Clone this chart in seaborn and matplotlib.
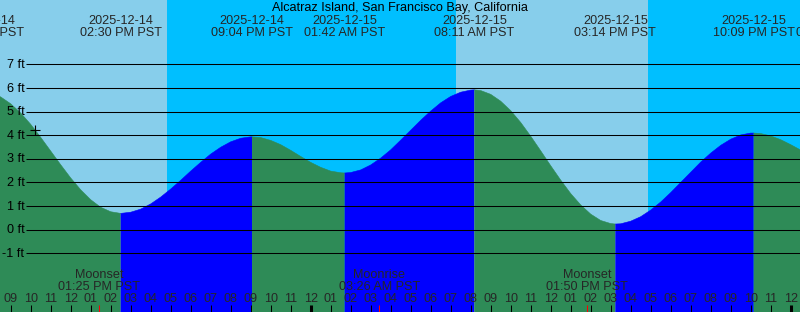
import numpy as np
import pandas as pd
import matplotlib
matplotlib.use("Agg")
import matplotlib.pyplot as plt
import seaborn as sns
from matplotlib.transforms import blended_transform_factory, ScaledTranslation

# ---------------- data (hours counted from 2025-12-14 00:00 PST) ----------------
TITLE = "Alcatraz Island, San Francisco Bay, California"

# tide height read every half hour, 08:00 Dec 14 .. 01:00 Dec 16
tide_hours = np.arange(8.0, 49.25, 0.5)
tide_ft = [5.78, 5.62, 5.33, 4.94, 4.46, 3.91, 3.33, 2.75, 2.19, 1.69,
           1.27, 0.95, 0.76, 0.69, 0.74, 0.87, 1.09, 1.38, 1.72, 2.09,
           2.48, 2.85, 3.20, 3.49, 3.72, 3.87, 3.93, 3.90, 3.78, 3.60,
           3.36, 3.10, 2.85, 2.64, 2.48, 2.41, 2.42, 2.53, 2.74, 3.03,
           3.38, 3.79, 4.21, 4.63, 5.02, 5.37, 5.64, 5.82, 5.91, 5.89,
           5.73, 5.44, 5.04, 4.54, 3.96, 3.34, 2.71, 2.10, 1.53, 1.05,
           0.66, 0.39, 0.26, 0.25, 0.36, 0.55, 0.83, 1.17, 1.57, 2.00,
           2.43, 2.86, 3.24, 3.57, 3.83, 4.01, 4.09, 4.07, 3.97, 3.81,
           3.60, 3.37, 3.17]

extreme_hours = [7.63, 14.5, 21.067, 25.7, 32.183, 39.233, 46.15, 50.3]
extreme_ft = [5.82, 0.69, 3.93, 2.40, 5.92, 0.24, 4.09, 2.90]
extreme_dates = ["2025-12-14", "2025-12-14", "2025-12-14", "2025-12-15",
                 "2025-12-15", "2025-12-15", "2025-12-15", "2025-12-16"]
extreme_clock = ["07:38 AM PST", "02:30 PM PST", "09:04 PM PST", "01:42 AM PST",
                 "08:11 AM PST", "03:14 PM PST", "10:09 PM PST", "02:18 AM PST"]

moon_hours = [13.417, 27.433, 37.833]
moon_names = ["Moonset", "Moonrise", "Moonset"]
moon_clock = ["01:25 PM PST", "03:26 AM PST", "01:50 PM PST"]

sky_edges = [7.0, 16.8, 31.265, 40.865, 50.0]
sky_is_day = [True, False, True, False]

now_hour = 10.2
now_ft = 4.24

ft_levels = [-1, 0, 1, 2, 3, 4, 5, 6, 7]
hour_ticks = list(range(9, 49))
hour_labels = ["%02d" % (12 if h % 12 == 0 else h % 12) for h in hour_ticks]

# ---------------- style ----------------
W, H = 800, 312
DPI = 100
FS = 9.1
DAY, NIGHT = "#87CEEB", "#00BFFF"
FALL, RISE = "#2E8B57", "#0000FF"

sns.set_style("white")
plt.rcParams["font.family"] = ["Liberation Sans", "DejaVu Sans"]

fig = plt.figure(figsize=(W / DPI, H / DPI), dpi=DPI)
ax = fig.add_axes([0, 0, 1, 1])
ax.set_axis_off()
X0 = 9 - 10.7 / 20.0
XLIM = (X0, X0 + W / 20.0)
YLIM = (-(H - 229.7) / 23.625, 229.7 / 23.625)


def fy(py):
    return 1 - py / H


bt = blended_transform_factory(ax.transData, ax.transAxes)

# sky (day / night)
for i, day in enumerate(sky_is_day):
    ax.axvspan(sky_edges[i], sky_edges[i + 1], color=DAY if day else NIGHT, lw=0, zorder=0)

# tide curve
curve = pd.concat([
    pd.DataFrame({"hour": tide_hours, "ft": tide_ft}),
    pd.DataFrame({"hour": extreme_hours, "ft": extreme_ft}),
]).sort_values("hour").drop_duplicates("hour").reset_index(drop=True)

bottom = -10
for i in range(len(extreme_hours) - 1):
    a, b = extreme_hours[i], extreme_hours[i + 1]
    seg = curve[(curve.hour >= a) & (curve.hour <= b)]
    c = RISE if extreme_ft[i + 1] > extreme_ft[i] else FALL
    ax.fill_between(seg.hour, bottom, seg.ft, color=c, lw=0, zorder=1)
    sns.lineplot(data=seg, x="hour", y="ft", color=c, lw=0.4, ax=ax, zorder=1.1,
                 sort=True, estimator=None)

ax.set_xlim(*XLIM)
ax.set_ylim(*YLIM)
ax.set_axis_off()

# horizontal ft lines and labels
ax.hlines(ft_levels, 26 / W, 1, transform=blended_transform_factory(ax.transAxes, ax.transData),
          color="black", lw=0.75, zorder=2)
lab_tr = blended_transform_factory(ax.transAxes, ax.transData) + \
    ScaledTranslation(0, -3.6 / DPI, fig.dpi_scale_trans)
for lv in ft_levels:
    ax.text(24.5 / W, lv, "%d ft" % lv, transform=lab_tr, ha="right", va="baseline",
            fontsize=FS, color="black", zorder=3)

# "now" marker
ax.plot([now_hour], [now_ft], marker="+", ms=7.5, mew=0.8, color="black", zorder=3)

# title
ax.text(0.5, fy(11.5), TITLE, transform=ax.transAxes, ha="center", va="baseline",
        fontsize=FS, color="black", zorder=3)

# tide event labels
for hr, d, clk in zip(extreme_hours, extreme_dates, extreme_clock):
    ax.text(hr, fy(24), d, transform=bt, ha="center", va="baseline", fontsize=FS, zorder=3)
    ax.text(hr, fy(36), clk, transform=bt, ha="center", va="baseline", fontsize=FS, zorder=3)

# moon labels
for hr, nm, clk in zip(moon_hours, moon_names, moon_clock):
    ax.text(hr, fy(278), nm, transform=bt, ha="center", va="baseline", fontsize=FS, zorder=3)
    ax.text(hr, fy(289.5), clk, transform=bt, ha="center", va="baseline", fontsize=FS, zorder=3)

# hour ticks and labels
for h, lab in zip(hour_ticks, hour_labels):
    ax.text(h, fy(301.7), lab, transform=bt, ha="center", va="baseline", fontsize=FS, zorder=3)
normal = [h for h in hour_ticks if h % 24 != 0]
midnight = [h for h in hour_ticks if h % 24 == 0]
ax.vlines(normal, 0, fy(305), transform=bt, color="black", lw=0.75, zorder=3)
ax.vlines(midnight, 0, fy(305), transform=bt, color="black", lw=2.2, zorder=3)
ax.vlines(moon_hours, 0, fy(305), transform=bt, color="red", lw=0.75, zorder=3.5)

fig.savefig("out.png", dpi=DPI)
